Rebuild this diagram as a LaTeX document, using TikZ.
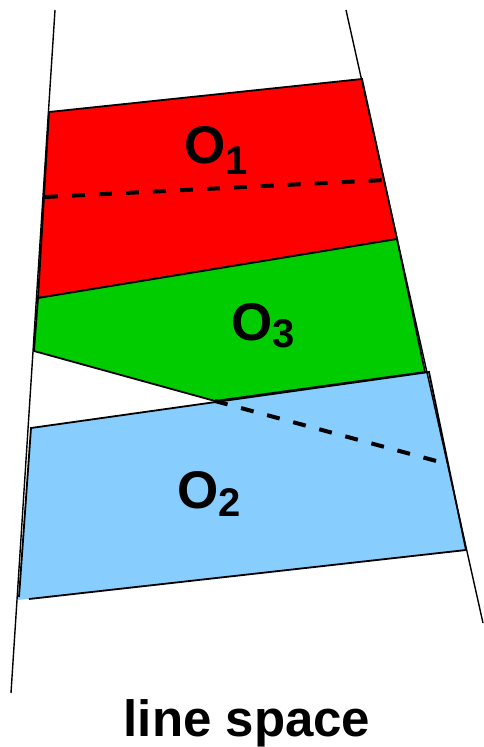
\documentclass[tikz,border=0pt]{standalone}
\usepackage{fontspec}
\setmainfont{Liberation Sans}
\definecolor{redfill}{RGB}{255,0,0}
\definecolor{greenfill}{RGB}{0,204,0}
\definecolor{bluefill}{RGB}{135,206,255}
\begin{document}
\begin{tikzpicture}[x=1pt,y=-1pt,
  edge/.style={line width=1.8pt,line join=miter},
  bound/.style={line width=1.4pt},
  dashline/.style={line width=4pt,dash pattern=on 13pt off 14pt},
  lbl/.style={anchor=base west,inner sep=0pt,font=\bfseries\fontsize{53}{60}\selectfont}]
\useasboundingbox (0,0) rectangle (483,747);
% red O1
\coordinate (r1) at (49,112);
\coordinate (r2) at (362,79);
\coordinate (r3) at (397,239);
\coordinate (r4) at (38,298);
\filldraw[edge,fill=redfill] (r1) -- (r2) -- (r3) -- (r4) -- cycle;
% green O3
\coordinate (g5) at (425,372);
\coordinate (g6) at (215,401);
\coordinate (g7) at (34,351);
\filldraw[edge,fill=greenfill] (r4) -- (r3) -- (g5) -- (g6) -- (g7) -- cycle;
% blue O2
\coordinate (b1) at (31,428);
\coordinate (b2) at (429,372);
\coordinate (b3) at (466,550);
\coordinate (b4) at (29,599);
\coordinate (b5) at (18,600);
\fill[bluefill] (b1) -- (b2) -- (b3) -- (b5) -- cycle;
\draw[edge] (b4) -- (b3) -- (b2) -- (b1) -- (19,597);
% boundary lines
\coordinate (lt) at (55,10);
\coordinate (lb) at (11,693);
\coordinate (rt) at (346,10);
\coordinate (rb) at (483,623);
\draw[bound] (lt) -- (lb);
\draw[bound] (rt) -- (rb);
% dashed lines
\coordinate (d1) at (45,197);
\coordinate (d2) at (385,180);
\coordinate (d3) at (440,462);
\draw[dashline] (d1) -- (d2);
\draw[dashline] (g6) -- (d3);
% labels
\node[lbl] (o1) at (184,163) {O\raisebox{-11pt}{\fontsize{40}{44}\selectfont 1}};
\node[lbl] (o3) at (231,340) {O\raisebox{-7pt}{\fontsize{40}{44}\selectfont 3}};
\node[lbl] (o2) at (177,508) {O\raisebox{-8pt}{\fontsize{40}{44}\selectfont 2}};
\node[anchor=base,inner sep=0pt,font=\bfseries\fontsize{51}{60}\selectfont] (ls) at (247,736) {line space};
\end{tikzpicture}
\end{document}
